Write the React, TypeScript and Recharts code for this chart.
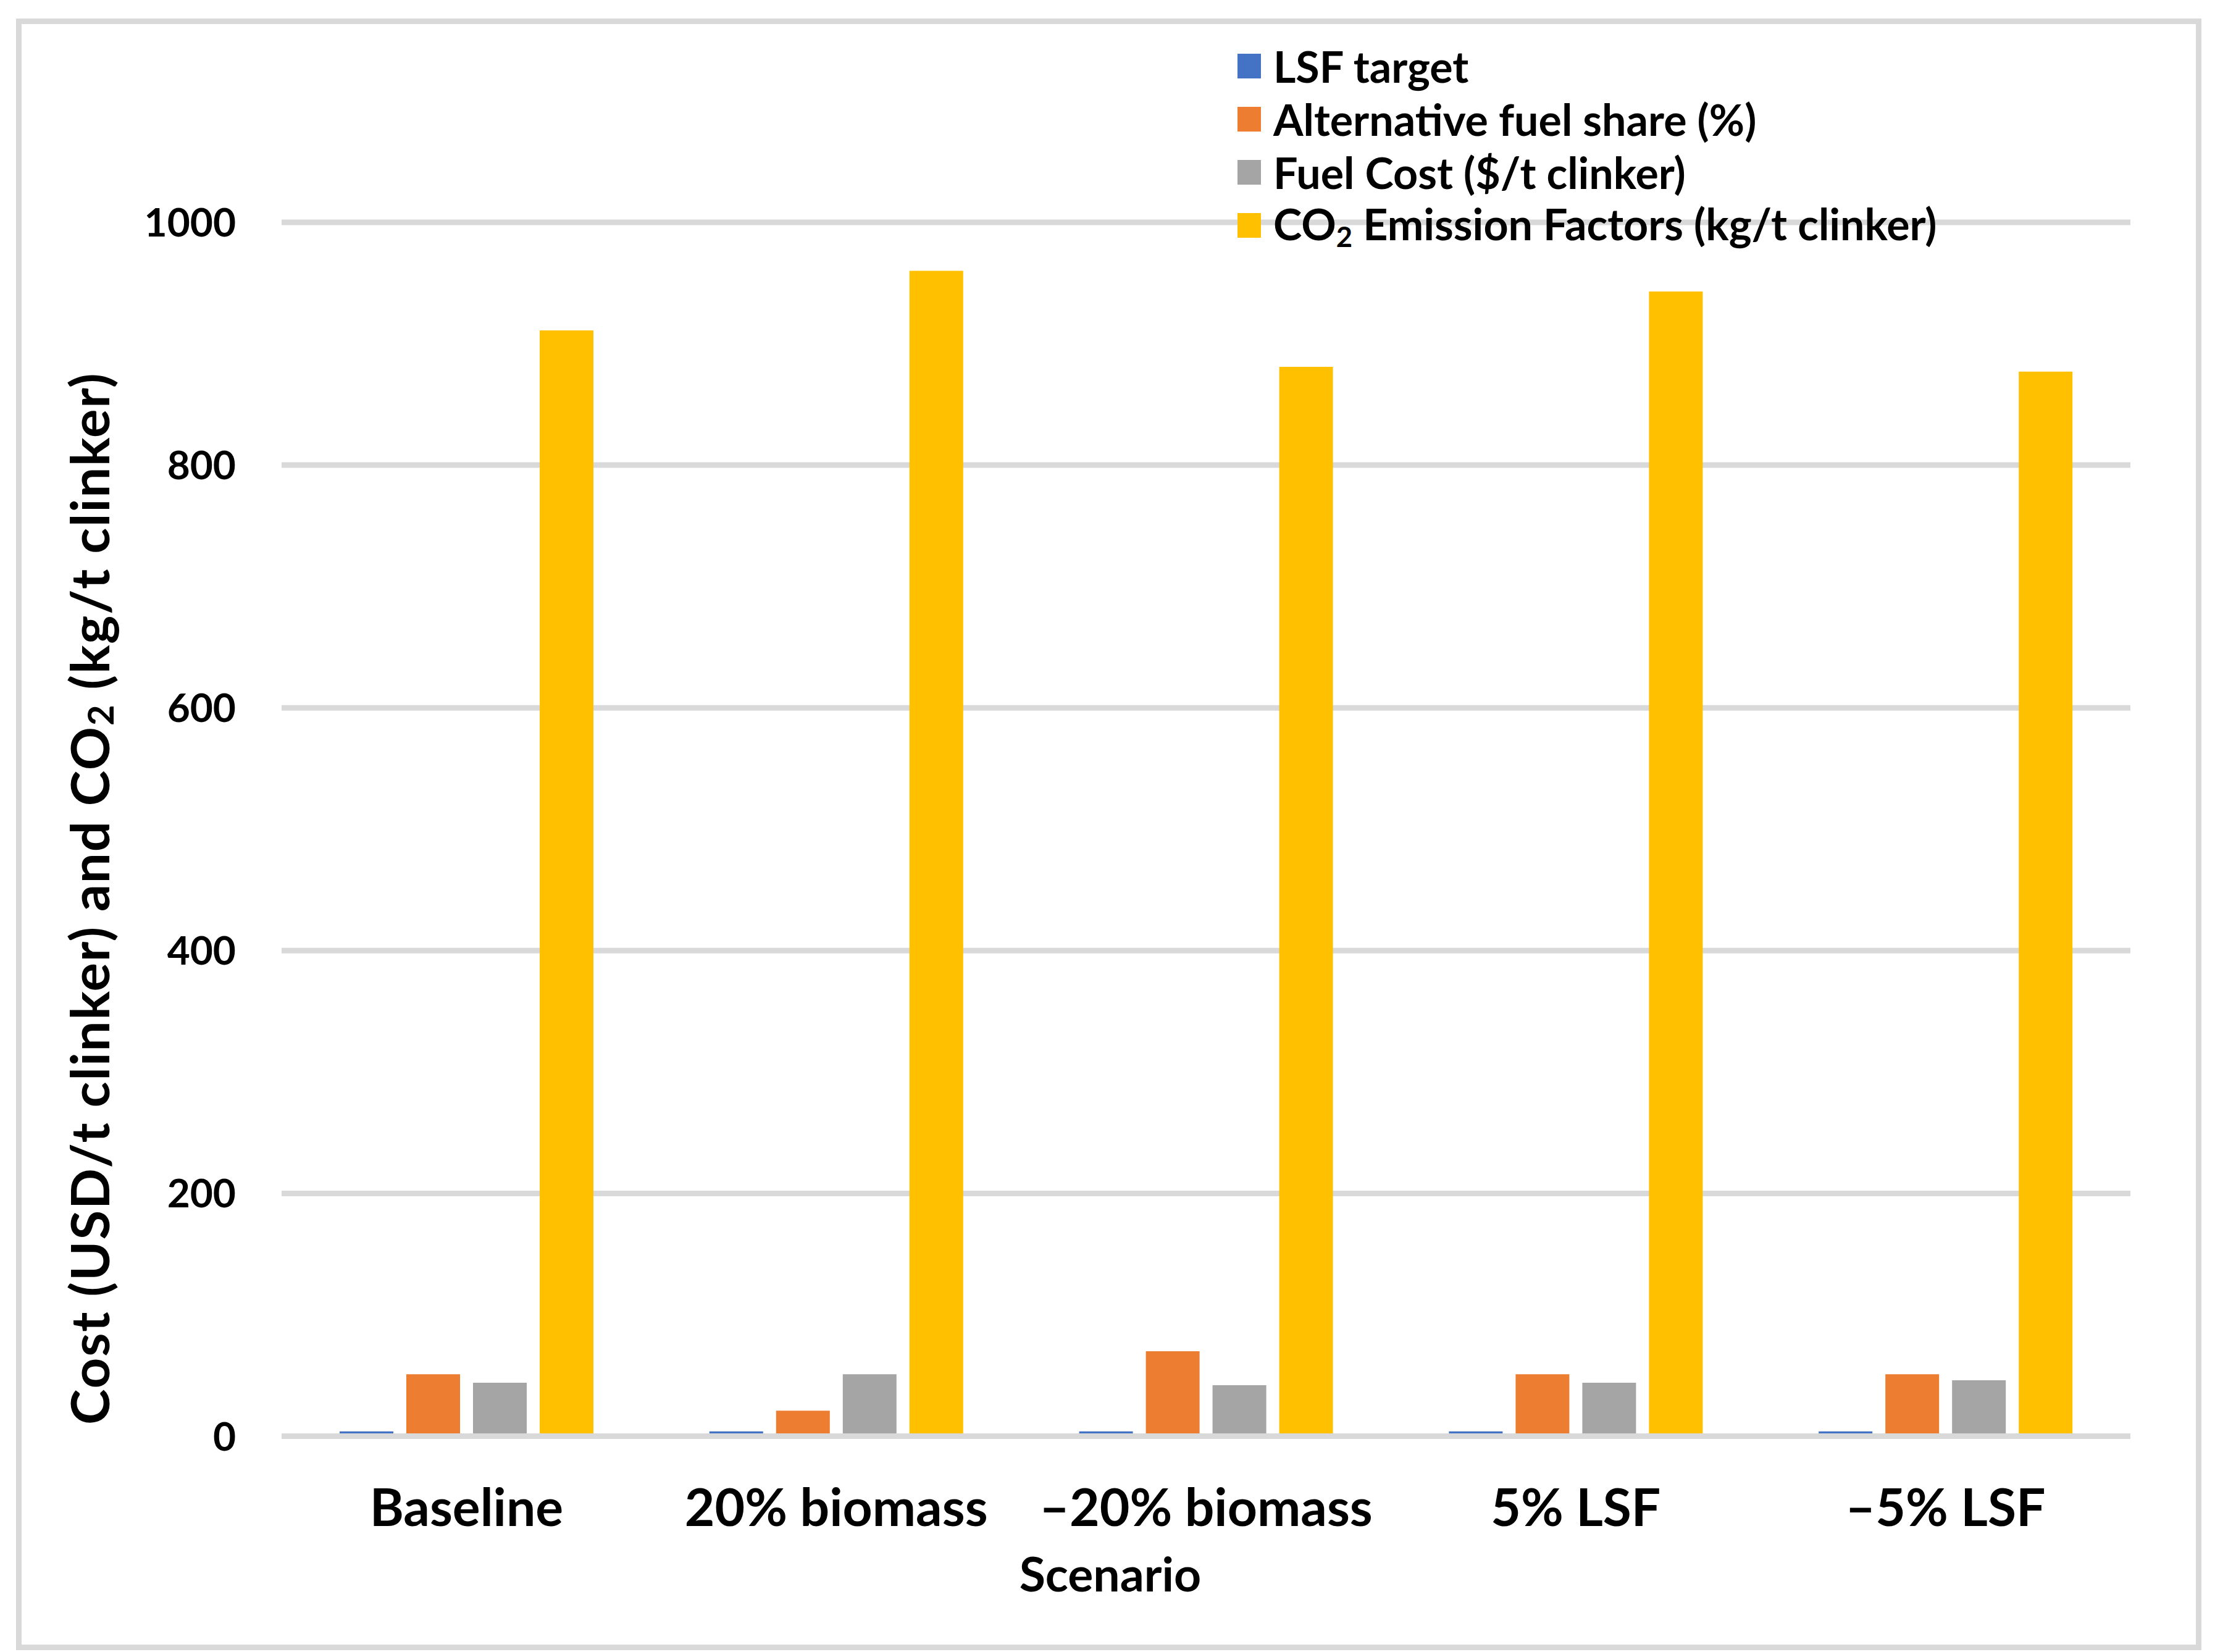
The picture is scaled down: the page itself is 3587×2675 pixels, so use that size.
import React from 'react';
import { BarChart, Bar, XAxis, YAxis, CartesianGrid, Legend } from 'recharts';

const scenarios = ['Baseline', '20% biomass', '\u201320% biomass', '5% LSF', '\u20135% LSF'];
const lsfTarget = [4, 4, 4, 4, 4];
const altFuelShare = [51, 21, 70, 51, 51];
const fuelCost = [44, 51, 42, 44, 46];
const co2Emission = [911, 960, 881, 943, 877];
const yTicks = [0, 200, 400, 600, 800, 1000];

const seriesNames = ['LSF target', 'Alternative fuel share (%)', 'Fuel Cost ($/t clinker)', 'CO2 Emission Factors (kg/t clinker)'];
const seriesKeys = ['lsf', 'alt', 'cost', 'co2'];
const seriesColors = ['#4472C4', '#ED7D31', '#A5A5A5', '#FFC000'];

const data = scenarios.map((s, i) => ({
  name: s,
  lsf: lsfTarget[i],
  alt: altFuelShare[i],
  cost: fuelCost[i],
  co2: co2Emission[i],
}));

const FONT = 'Lato, "Liberation Sans", Arial, sans-serif';
const GRID = '#D9D9D9';

const XTick = (props: any) => {
  const { x, y, payload } = props;
  return (
    <text x={x} y={y} dy={137} textAnchor="middle" fontFamily={FONT} fontWeight={700} fontSize={84} fill="#000">
      {payload.value}
    </text>
  );
};

const YTick = (props: any) => {
  const { x, y, payload } = props;
  return (
    <text x={x} y={y} dx={-66} dy={23} textAnchor="end" fontFamily={FONT} fontWeight={700} fontSize={64} fill="#000">
      {payload.value}
    </text>
  );
};

const YLabel = (props: any) => {
  const vb = props.viewBox || { x: 0, y: 0, width: 0, height: 0 };
  const cx = vb.x + 143;
  const cy = vb.y + vb.height / 2 + 112;
  return (
    <text
      x={cx}
      y={cy}
      transform={`rotate(-90 ${cx} ${cy})`}
      textAnchor="middle"
      dominantBaseline="central"
      fontFamily={FONT}
      fontWeight={700}
      fontSize={87}
      letterSpacing={1.8}
      fill="#000"
    >
      <tspan>Cost (USD/t clinker) and CO</tspan>
      <tspan fontSize={58} dy={18}>2</tspan>
      <tspan dy={-18}> (kg/t clinker)</tspan>
    </text>
  );
};

const XLabel = (props: any) => {
  const vb = props.viewBox || { x: 0, y: 0, width: 0, height: 0 };
  return (
    <text
      x={vb.x + vb.width / 2 - 155}
      y={vb.y + 251}
      textAnchor="middle"
      fontFamily={FONT}
      fontWeight={700}
      fontSize={77}
      fill="#000"
    >
      Scenario
    </text>
  );
};

const LegendContent = () => (
  <div style={{ fontFamily: FONT, fontWeight: 700, fontSize: 70, color: '#000' }}>
    {seriesNames.map((n, i) => (
      <div key={n} style={{ display: 'flex', alignItems: 'center', height: 86, whiteSpace: 'nowrap' }}>
        <span style={{ display: 'inline-block', width: 38, height: 40, background: seriesColors[i], marginRight: 20 }} />
        {i === 3 ? (
          <span>
            CO<sub style={{ fontSize: '0.65em', verticalAlign: '-0.25em' }}>2</sub> Emission Factors (kg/t clinker)
          </span>
        ) : (
          <span>{n}</span>
        )}
      </div>
    ))}
  </div>
);

export default function App() {
  return (
    <div style={{ position: 'absolute', left: 0, top: 0, width: 3587, height: 2675, background: '#fff' }}>
      <div
        style={{
          position: 'absolute',
          left: 26,
          top: 30,
          width: 3539,
          height: 2642,
          border: `9px solid ${GRID}`,
          boxSizing: 'border-box',
        }}
      />
      <div style={{ position: 'absolute', left: 0, top: 0 }}>
        <BarChart
          width={3587}
          height={2675}
          data={data}
          margin={{ top: 360, right: 137, bottom: 149.5, left: 0 }}
          barGap={21}
        >
          <CartesianGrid vertical={false} stroke={GRID} strokeWidth={9} />
          {seriesKeys.map((k, i) => (
            <Bar key={k} dataKey={k} name={seriesNames[i]} fill={seriesColors[i]} barSize={87} isAnimationActive={false} />
          ))}
          <XAxis
            dataKey="name"
            height={200}
            axisLine={{ stroke: GRID, strokeWidth: 9 }}
            tickLine={false}
            tick={<XTick />}
            interval={0}
            label={<XLabel />}
          />
          <YAxis
            width={456}
            domain={[0, 1000]}
            ticks={yTicks}
            axisLine={false}
            tickLine={false}
            tick={<YTick />}
            interval={0}
            label={<YLabel />}
          />
          <Legend
            layout="horizontal"
            verticalAlign="middle"
            align="center"
            content={<LegendContent />}
            wrapperStyle={{ position: 'absolute', left: 2004, top: 64, width: 'auto' }}
          />
        </BarChart>
      </div>
    </div>
  );
}
